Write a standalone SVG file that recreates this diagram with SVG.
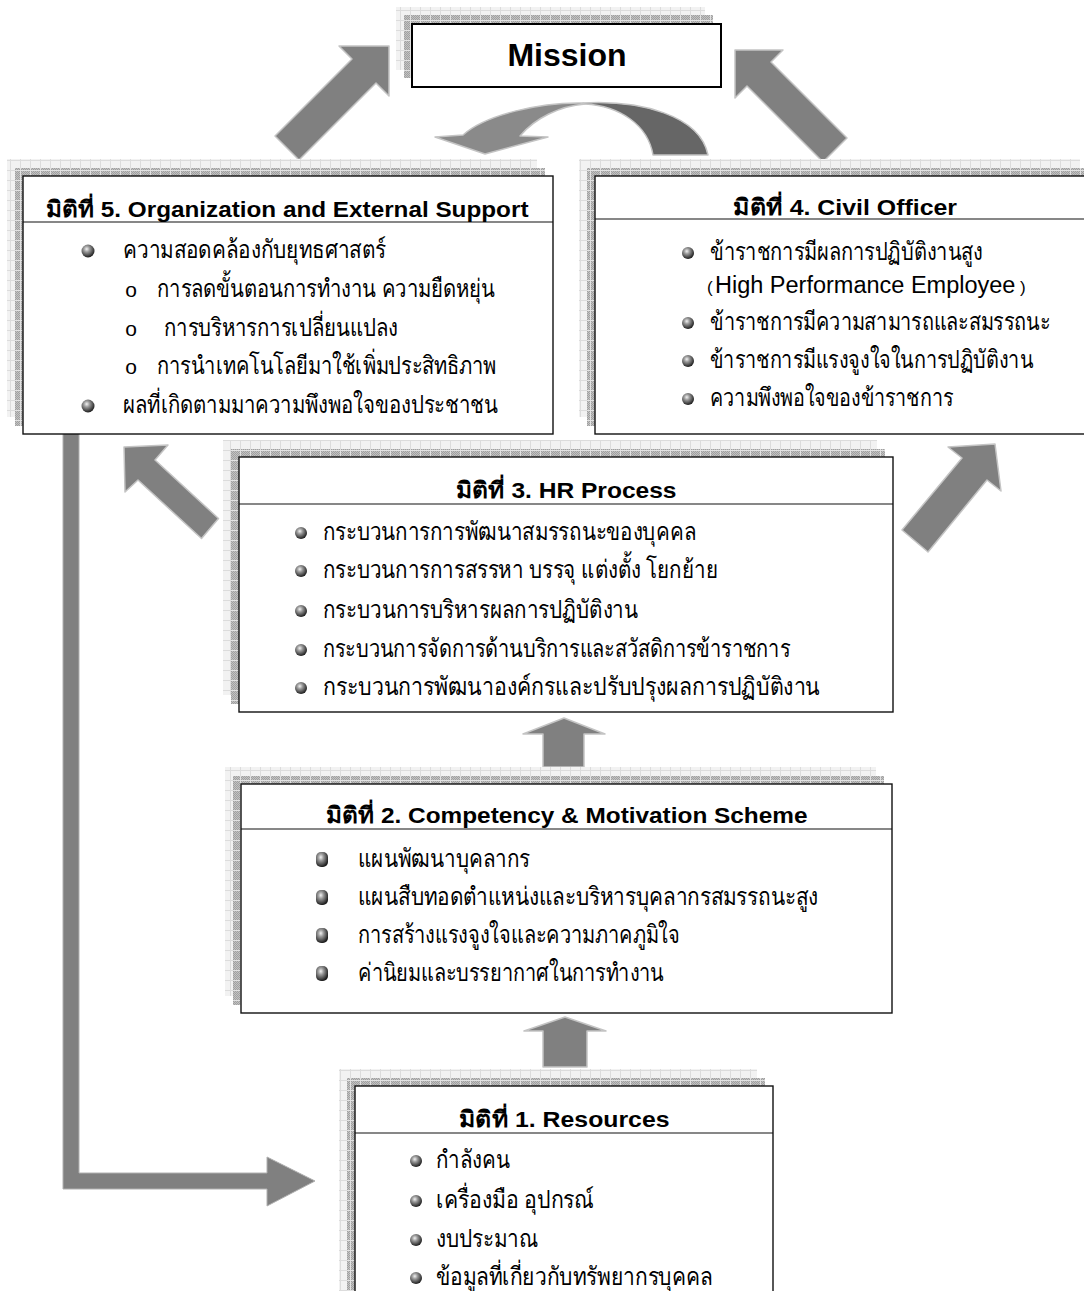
<svg xmlns="http://www.w3.org/2000/svg" width="1084" height="1291" viewBox="0 0 1084 1291">
<style>
.t{font-family:"Liberation Sans","Noto Sans","DejaVu Sans",sans-serif;font-size:25px;fill:#000}
.e{font-family:"Liberation Sans","Noto Sans","DejaVu Sans",sans-serif;font-size:23.5px;fill:#000}
.h{font-family:"Liberation Sans","Noto Sans","DejaVu Sans",sans-serif;font-size:22.5px;font-weight:bold;text-anchor:middle;fill:#000}
.m{font-family:"Liberation Sans","Noto Sans","DejaVu Sans",sans-serif;font-size:32px;font-weight:bold;text-anchor:middle;fill:#000}
.o{font-family:"Liberation Sans","Noto Sans",sans-serif;font-size:21px;text-anchor:middle;fill:#000}
.box{fill:#fff;stroke:#111;stroke-width:1.4}
.div{stroke:#111;stroke-width:1.2}
.sl{fill:url(#pLight)}
.sd{fill:url(#pDark)}
.arr{fill:#808080;stroke:#c4c4c4;stroke-width:1.5;stroke-linejoin:round}
.bul{fill:url(#ball)}
</style>
<defs>
<pattern id="pLight" width="10" height="10" patternUnits="userSpaceOnUse"><rect width="10" height="10" fill="#f2f2f2"/><path d="M0 0.5H10M0.5 0V10" stroke="#dcdcdc" stroke-width="1"/></pattern>
<pattern id="chk" width="2" height="2" patternUnits="userSpaceOnUse"><rect width="2" height="2" fill="#c2c2c2"/><rect width="1" height="1" fill="#a0a0a0"/><rect x="1" y="1" width="1" height="1" fill="#a0a0a0"/></pattern>
<pattern id="pDark" width="10" height="10" patternUnits="userSpaceOnUse"><rect width="10" height="10" fill="url(#chk)"/><path d="M0 0.5H10M0.5 0V10" stroke="#e2e2e2" stroke-width="1"/></pattern>
<radialGradient id="ball" cx="0.4" cy="0.35" r="0.65"><stop offset="0" stop-color="#f2f2f2"/><stop offset="0.35" stop-color="#9a9a9a"/><stop offset="1" stop-color="#1e1e1e"/></radialGradient>
</defs>

<g id="connectors">
  <polygon class="arr" points="389,46 339,46 352,59 275,136 299,160 376,83 389,96"/>
  <polygon class="arr" points="735,50 783,50 771,62 847,138 823,162 747,86 735,98"/>
  <path d="M583,103 C540,102 485,115 463,135 L435,137 L485,154 L548,137 L520,136 C535,118 560,106 585,104 Z" fill="#8a8a8a" stroke="#c4c4c4" stroke-width="1.5" stroke-linejoin="round"/>
  <path d="M583,103 C640,100 700,115 708,155 L653,155 C648,125 620,106 585,104 Z" fill="#666" stroke="#c4c4c4" stroke-width="1.5" stroke-linejoin="round"/>
  <polygon class="arr" points="124,447 168,445 155,460 218.5,518.5 201.5,538.5 138,480 125,492"/>
  <polygon class="arr" points="995,444 948,447 962,458 902,530 928,552 987,480 1001,491"/>
  <polygon class="arr" points="564,718 523,734 543,734 543,767 584,767 584,734 605,734"/>
  <polygon class="arr" points="565,1017 524,1031 543,1031 543,1067 587,1067 587,1031 606,1031"/>
  <polygon points="63,430 79,430 79,1173 267,1173 267,1157 315,1181 267,1206 267,1189 63,1189" fill="#808080" stroke="#b0b0b0" stroke-width="1"/>
</g>

<g id="mission">
  <rect class="sl" x="396" y="7" width="309" height="63"/>
  <rect class="sd" x="404" y="15" width="309" height="63"/>
  <rect x="412" y="24" width="309" height="63" fill="#fff" stroke="#000" stroke-width="2"/>
  <text class="m" x="567" y="66">Mission</text>
</g>

<g id="box5">
  <rect class="sl" x="7" y="159" width="530" height="258"/>
  <rect class="sd" x="15" y="168" width="530" height="258"/>
  <rect class="box" x="23" y="176" width="530" height="258"/>
  <line class="div" x1="23" y1="222" x2="553" y2="222"/>
  <text class="h" x="287" y="217" textLength="483" lengthAdjust="spacingAndGlyphs">มิติที่ 5. Organization and External Support</text>
  <circle class="bul" cx="88" cy="251" r="6.5"/>
  <text class="t" x="123" y="258" textLength="263" lengthAdjust="spacingAndGlyphs">ความสอดคล้องกับยุทธศาสตร์</text>
  <text class="o" x="131" y="297">o</text>
  <text class="t" x="157" y="297" textLength="338" lengthAdjust="spacingAndGlyphs">การลดขั้นตอนการทำงาน ความยืดหยุ่น</text>
  <text class="o" x="131" y="336">o</text>
  <text class="t" x="164" y="336" textLength="234" lengthAdjust="spacingAndGlyphs">การบริหารการเปลี่ยนแปลง</text>
  <text class="o" x="131" y="374">o</text>
  <text class="t" x="157" y="374" textLength="339" lengthAdjust="spacingAndGlyphs">การนำเทคโนโลยีมาใช้เพิ่มประสิทธิภาพ</text>
  <circle class="bul" cx="88" cy="406" r="6.5"/>
  <text class="t" x="123" y="413" textLength="375" lengthAdjust="spacingAndGlyphs">ผลที่เกิดตามมาความพึงพอใจของประชาชน</text>
</g>

<g id="box4">
  <rect class="sl" x="579" y="159" width="501" height="258"/>
  <rect class="sd" x="587" y="168" width="501" height="258"/>
  <rect class="box" x="595" y="176" width="501" height="258"/>
  <line class="div" x1="595" y1="219" x2="1084" y2="219"/>
  <text class="h" x="845" y="215" textLength="224" lengthAdjust="spacingAndGlyphs">มิติที่ 4. Civil Officer</text>
  <circle class="bul" cx="688" cy="253" r="6"/>
  <text class="t" x="710" y="260" textLength="273" lengthAdjust="spacingAndGlyphs">ข้าราชการมีผลการปฏิบัติงานสูง</text>
  <text class="e" y="293"><tspan x="707" font-size="17">(</tspan><tspan x="715">High Performance Employee</tspan><tspan x="1020" font-size="17">)</tspan></text>
  <circle class="bul" cx="688" cy="323" r="6"/>
  <text class="t" x="710" y="330" textLength="340" lengthAdjust="spacingAndGlyphs">ข้าราชการมีความสามารถและสมรรถนะ</text>
  <circle class="bul" cx="688" cy="361" r="6"/>
  <text class="t" x="710" y="368" textLength="323" lengthAdjust="spacingAndGlyphs">ข้าราชการมีแรงจูงใจในการปฏิบัติงาน</text>
  <circle class="bul" cx="688" cy="399" r="6"/>
  <text class="t" x="710" y="406" textLength="243" lengthAdjust="spacingAndGlyphs">ความพึงพอใจของข้าราชการ</text>
</g>

<g id="box3">
  <rect class="sl" x="223" y="440" width="654" height="255"/>
  <rect class="sd" x="231" y="449" width="654" height="255"/>
  <rect class="box" x="239" y="457" width="654" height="255"/>
  <line class="div" x1="239" y1="504" x2="893" y2="504"/>
  <text class="h" x="566" y="498" textLength="221" lengthAdjust="spacingAndGlyphs">มิติที่ 3. HR Process</text>
  <circle class="bul" cx="301" cy="533" r="6"/>
  <text class="t" x="323" y="540" textLength="373" lengthAdjust="spacingAndGlyphs">กระบวนการการพัฒนาสมรรถนะของบุคคล</text>
  <circle class="bul" cx="301" cy="571" r="6"/>
  <text class="t" x="323" y="578" textLength="395" lengthAdjust="spacingAndGlyphs">กระบวนการการสรรหา บรรจุ แต่งตั้ง โยกย้าย</text>
  <circle class="bul" cx="301" cy="611" r="6"/>
  <text class="t" x="323" y="618" textLength="315" lengthAdjust="spacingAndGlyphs">กระบวนการบริหารผลการปฏิบัติงาน</text>
  <circle class="bul" cx="301" cy="650" r="6"/>
  <text class="t" x="323" y="657" textLength="467" lengthAdjust="spacingAndGlyphs">กระบวนการจัดการด้านบริการและสวัสดิการข้าราชการ</text>
  <circle class="bul" cx="301" cy="688" r="6"/>
  <text class="t" x="323" y="695" textLength="497" lengthAdjust="spacingAndGlyphs">กระบวนการพัฒนาองค์กรและปรับปรุงผลการปฏิบัติงาน</text>
</g>

<g id="box2">
  <rect class="sl" x="225" y="767" width="651" height="229"/>
  <rect class="sd" x="233" y="776" width="651" height="229"/>
  <rect class="box" x="241" y="784" width="651" height="229"/>
  <line class="div" x1="241" y1="829" x2="892" y2="829"/>
  <text class="h" x="566.5" y="823" textLength="482" lengthAdjust="spacingAndGlyphs">มิติที่ 2. Competency &amp; Motivation Scheme</text>
  <rect class="bul" x="316" y="852" width="12" height="15" rx="5"/>
  <text class="t" x="358" y="867" textLength="172" lengthAdjust="spacingAndGlyphs">แผนพัฒนาบุคลากร</text>
  <rect class="bul" x="316" y="890" width="12" height="15" rx="5"/>
  <text class="t" x="358" y="905" textLength="460" lengthAdjust="spacingAndGlyphs">แผนสืบทอดตำแหน่งและบริหารบุคลากรสมรรถนะสูง</text>
  <rect class="bul" x="316" y="928" width="12" height="15" rx="5"/>
  <text class="t" x="358" y="943" textLength="322" lengthAdjust="spacingAndGlyphs">การสร้างแรงจูงใจและความภาคภูมิใจ</text>
  <rect class="bul" x="316" y="966" width="12" height="15" rx="5"/>
  <text class="t" x="358" y="981" textLength="306" lengthAdjust="spacingAndGlyphs">ค่านิยมและบรรยากาศในการทำงาน</text>
</g>

<g id="box1">
  <rect class="sl" x="339" y="1069" width="418" height="240"/>
  <rect class="sd" x="347" y="1078" width="418" height="240"/>
  <rect class="box" x="355" y="1086" width="418" height="240"/>
  <line class="div" x1="355" y1="1133" x2="773" y2="1133"/>
  <text class="h" x="564" y="1127" textLength="211" lengthAdjust="spacingAndGlyphs">มิติที่ 1. Resources</text>
  <circle class="bul" cx="416" cy="1161" r="6"/>
  <text class="t" x="436" y="1168" textLength="74" lengthAdjust="spacingAndGlyphs">กำลังคน</text>
  <circle class="bul" cx="416" cy="1201" r="6"/>
  <text class="t" x="436" y="1208" textLength="158" lengthAdjust="spacingAndGlyphs">เครื่องมือ อุปกรณ์</text>
  <circle class="bul" cx="416" cy="1240" r="6"/>
  <text class="t" x="436" y="1247" textLength="102" lengthAdjust="spacingAndGlyphs">งบประมาณ</text>
  <circle class="bul" cx="416" cy="1278" r="6"/>
  <text class="t" x="436" y="1285" textLength="277" lengthAdjust="spacingAndGlyphs">ข้อมูลที่เกี่ยวกับทรัพยากรบุคคล</text>
</g>
</svg>
